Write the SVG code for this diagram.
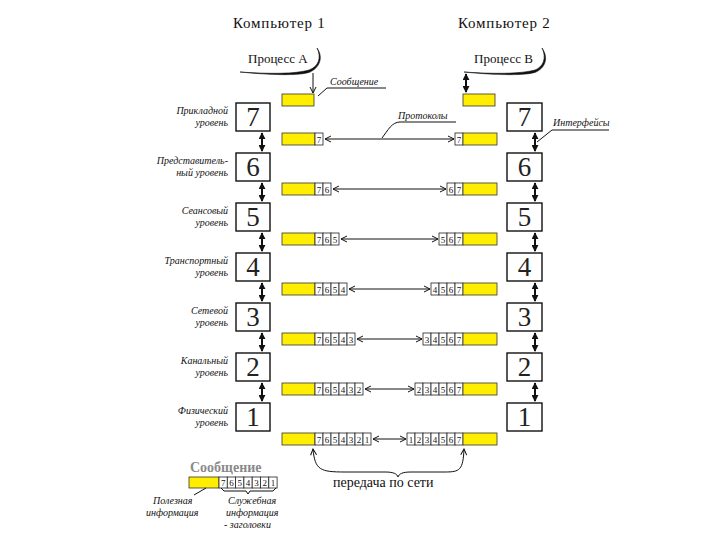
<svg xmlns="http://www.w3.org/2000/svg" width="720" height="540" viewBox="0 0 720 540" font-family="'Liberation Serif', 'Times New Roman', 'DejaVu Serif', serif">
<style>
.t{font-family:"Liberation Serif","Times New Roman","DejaVu Serif",serif;fill:#111}
.lbl{font-family:"Liberation Serif","Times New Roman","DejaVu Serif",serif;font-style:italic;font-size:10px;fill:#111;text-anchor:end}
.it{font-family:"Liberation Serif","Times New Roman","DejaVu Serif",serif;font-style:italic;font-size:10px;fill:#111}
.box{fill:#fff;stroke:#111;stroke-width:1.4}
.num{font-family:"Liberation Serif","Times New Roman","DejaVu Serif",serif;font-size:27px;fill:#222;text-anchor:middle}
.y{fill:#ffee00;stroke:#333;stroke-width:0.8}
.c{fill:#fff;stroke:#222;stroke-width:0.8}
.ct{font-family:"Liberation Serif","Times New Roman","DejaVu Serif",serif;font-size:9px;fill:#111;text-anchor:middle}
.ln{fill:none;stroke:#111;stroke-width:1}
.ha{fill:none;stroke:#111;stroke-width:1;marker-start:url(#oa);marker-end:url(#oa)}
.va{fill:none;stroke:#111;stroke-width:2;marker-start:url(#fa);marker-end:url(#fa)}
</style>
<defs>
<marker id="oa" viewBox="0 0 8 8" refX="7" refY="4" markerWidth="8" markerHeight="8" markerUnits="userSpaceOnUse" orient="auto-start-reverse"><path d="M1,1 L7,4 L1,7" fill="none" stroke="#111" stroke-width="1"/></marker>
<marker id="fa" viewBox="0 0 8 8" refX="7" refY="4" markerWidth="7" markerHeight="7" markerUnits="userSpaceOnUse" orient="auto-start-reverse"><path d="M0,0 L8,4 L0,8 Z" fill="#111"/></marker>
</defs>

<g id="titles">
<text class="t" x="233" y="28" font-size="15" letter-spacing="0.8">Компьютер 1</text>
<text class="t" x="458" y="28" font-size="15" letter-spacing="0.8">Компьютер 2</text>
</g>

<g id="processA">
<text class="t" x="248" y="63" font-size="13">Процесс А</text>
<path d="M240,72 C270,75 300,76 310,72 C319,68 324,58 317,48 C322,58 318,67 309,70 C295,74 270,74 240,72 Z" fill="#111" stroke="#111" stroke-width="0.6"/>
</g>
<g id="processB">
<text class="t" x="474" y="63" font-size="13">Процесс В</text>
<path d="M464,72 C494,75 526,76 536,72 C545,68 549,58 542,48 C547,58 543,67 535,70 C520,74 494,74 464,72 Z" fill="#111" stroke="#111" stroke-width="0.6"/>
</g>

<g id="msg-top">
<rect class="y" x="282" y="94" width="32" height="12"/>
<rect class="y" x="463" y="94" width="32" height="12"/>
<text class="it" x="330" y="85">Сообщение</text>
</g>

<g id="layersA">
<g id="a7"><rect class="box" x="236" y="103" width="34" height="28"/><text class="num" x="253" y="126">7</text><text class="lbl" x="228" y="114">Прикладной</text><text class="lbl" x="228" y="126">уровень</text></g>
<g id="a6"><rect class="box" x="236" y="153" width="34" height="28"/><text class="num" x="253" y="176">6</text><text class="lbl" x="228" y="164">Представитель-</text><text class="lbl" x="228" y="176">ный уровень</text></g>
<g id="a5"><rect class="box" x="236" y="203" width="34" height="28"/><text class="num" x="253" y="226">5</text><text class="lbl" x="228" y="214">Сеансовый</text><text class="lbl" x="228" y="226">уровень</text></g>
<g id="a4"><rect class="box" x="236" y="253" width="34" height="28"/><text class="num" x="253" y="276">4</text><text class="lbl" x="228" y="264">Транспортный</text><text class="lbl" x="228" y="276">уровень</text></g>
<g id="a3"><rect class="box" x="236" y="303" width="34" height="28"/><text class="num" x="253" y="326">3</text><text class="lbl" x="228" y="314">Сетевой</text><text class="lbl" x="228" y="326">уровень</text></g>
<g id="a2"><rect class="box" x="236" y="353" width="34" height="28"/><text class="num" x="253" y="376">2</text><text class="lbl" x="228" y="364">Канальный</text><text class="lbl" x="228" y="376">уровень</text></g>
<g id="a1"><rect class="box" x="236" y="403" width="34" height="28"/><text class="num" x="253" y="426">1</text><text class="lbl" x="228" y="414">Физический</text><text class="lbl" x="228" y="426">уровень</text></g>
</g>

<g id="layersB">
<g id="b7"><rect class="box" x="507" y="103" width="35" height="28"/><text class="num" x="524.5" y="126">7</text></g>
<g id="b6"><rect class="box" x="507" y="153" width="35" height="28"/><text class="num" x="524.5" y="176">6</text></g>
<g id="b5"><rect class="box" x="507" y="203" width="35" height="28"/><text class="num" x="524.5" y="226">5</text></g>
<g id="b4"><rect class="box" x="507" y="253" width="35" height="28"/><text class="num" x="524.5" y="276">4</text></g>
<g id="b3"><rect class="box" x="507" y="303" width="35" height="28"/><text class="num" x="524.5" y="326">3</text></g>
<g id="b2"><rect class="box" x="507" y="353" width="35" height="28"/><text class="num" x="524.5" y="376">2</text></g>
<g id="b1"><rect class="box" x="507" y="403" width="35" height="28"/><text class="num" x="524.5" y="426">1</text></g>
</g>

<g id="packets">
<g id="r7">
<rect class="y" x="282" y="133" width="33" height="12"/><rect class="c" x="315" y="133" width="8" height="12"/><text class="ct" x="319" y="143">7</text>
<rect class="c" x="455" y="133" width="8" height="12"/><text class="ct" x="459" y="143">7</text><rect class="y" x="463" y="133" width="34" height="12"/>
</g>
<g id="r6">
<rect class="y" x="282" y="183" width="33" height="12"/>
<rect class="c" x="315" y="183" width="8" height="12"/><text class="ct" x="319" y="193">7</text>
<rect class="c" x="323" y="183" width="8" height="12"/><text class="ct" x="327" y="193">6</text>
<rect class="c" x="447" y="183" width="8" height="12"/><text class="ct" x="451" y="193">6</text>
<rect class="c" x="455" y="183" width="8" height="12"/><text class="ct" x="459" y="193">7</text>
<rect class="y" x="463" y="183" width="34" height="12"/>
</g>
<g id="r5">
<rect class="y" x="282" y="233" width="33" height="12"/>
<rect class="c" x="315" y="233" width="8" height="12"/><text class="ct" x="319" y="243">7</text>
<rect class="c" x="323" y="233" width="8" height="12"/><text class="ct" x="327" y="243">6</text>
<rect class="c" x="331" y="233" width="8" height="12"/><text class="ct" x="335" y="243">5</text>
<rect class="c" x="439" y="233" width="8" height="12"/><text class="ct" x="443" y="243">5</text>
<rect class="c" x="447" y="233" width="8" height="12"/><text class="ct" x="451" y="243">6</text>
<rect class="c" x="455" y="233" width="8" height="12"/><text class="ct" x="459" y="243">7</text>
<rect class="y" x="463" y="233" width="34" height="12"/>
</g>
<g id="r4">
<rect class="y" x="282" y="283" width="33" height="12"/>
<rect class="c" x="315" y="283" width="8" height="12"/><text class="ct" x="319" y="293">7</text>
<rect class="c" x="323" y="283" width="8" height="12"/><text class="ct" x="327" y="293">6</text>
<rect class="c" x="331" y="283" width="8" height="12"/><text class="ct" x="335" y="293">5</text>
<rect class="c" x="339" y="283" width="8" height="12"/><text class="ct" x="343" y="293">4</text>
<rect class="c" x="431" y="283" width="8" height="12"/><text class="ct" x="435" y="293">4</text>
<rect class="c" x="439" y="283" width="8" height="12"/><text class="ct" x="443" y="293">5</text>
<rect class="c" x="447" y="283" width="8" height="12"/><text class="ct" x="451" y="293">6</text>
<rect class="c" x="455" y="283" width="8" height="12"/><text class="ct" x="459" y="293">7</text>
<rect class="y" x="463" y="283" width="34" height="12"/>
</g>
<g id="r3">
<rect class="y" x="282" y="333" width="33" height="12"/>
<rect class="c" x="315" y="333" width="8" height="12"/><text class="ct" x="319" y="343">7</text>
<rect class="c" x="323" y="333" width="8" height="12"/><text class="ct" x="327" y="343">6</text>
<rect class="c" x="331" y="333" width="8" height="12"/><text class="ct" x="335" y="343">5</text>
<rect class="c" x="339" y="333" width="8" height="12"/><text class="ct" x="343" y="343">4</text>
<rect class="c" x="347" y="333" width="8" height="12"/><text class="ct" x="351" y="343">3</text>
<rect class="c" x="423" y="333" width="8" height="12"/><text class="ct" x="427" y="343">3</text>
<rect class="c" x="431" y="333" width="8" height="12"/><text class="ct" x="435" y="343">4</text>
<rect class="c" x="439" y="333" width="8" height="12"/><text class="ct" x="443" y="343">5</text>
<rect class="c" x="447" y="333" width="8" height="12"/><text class="ct" x="451" y="343">6</text>
<rect class="c" x="455" y="333" width="8" height="12"/><text class="ct" x="459" y="343">7</text>
<rect class="y" x="463" y="333" width="34" height="12"/>
</g>
<g id="r2">
<rect class="y" x="282" y="383" width="33" height="12"/>
<rect class="c" x="315" y="383" width="8" height="12"/><text class="ct" x="319" y="393">7</text>
<rect class="c" x="323" y="383" width="8" height="12"/><text class="ct" x="327" y="393">6</text>
<rect class="c" x="331" y="383" width="8" height="12"/><text class="ct" x="335" y="393">5</text>
<rect class="c" x="339" y="383" width="8" height="12"/><text class="ct" x="343" y="393">4</text>
<rect class="c" x="347" y="383" width="8" height="12"/><text class="ct" x="351" y="393">3</text>
<rect class="c" x="355" y="383" width="8" height="12"/><text class="ct" x="359" y="393">2</text>
<rect class="c" x="415" y="383" width="8" height="12"/><text class="ct" x="419" y="393">2</text>
<rect class="c" x="423" y="383" width="8" height="12"/><text class="ct" x="427" y="393">3</text>
<rect class="c" x="431" y="383" width="8" height="12"/><text class="ct" x="435" y="393">4</text>
<rect class="c" x="439" y="383" width="8" height="12"/><text class="ct" x="443" y="393">5</text>
<rect class="c" x="447" y="383" width="8" height="12"/><text class="ct" x="451" y="393">6</text>
<rect class="c" x="455" y="383" width="8" height="12"/><text class="ct" x="459" y="393">7</text>
<rect class="y" x="463" y="383" width="34" height="12"/>
</g>
<g id="r1">
<rect class="y" x="282" y="433" width="33" height="12"/>
<rect class="c" x="315" y="433" width="8" height="12"/><text class="ct" x="319" y="443">7</text>
<rect class="c" x="323" y="433" width="8" height="12"/><text class="ct" x="327" y="443">6</text>
<rect class="c" x="331" y="433" width="8" height="12"/><text class="ct" x="335" y="443">5</text>
<rect class="c" x="339" y="433" width="8" height="12"/><text class="ct" x="343" y="443">4</text>
<rect class="c" x="347" y="433" width="8" height="12"/><text class="ct" x="351" y="443">3</text>
<rect class="c" x="355" y="433" width="8" height="12"/><text class="ct" x="359" y="443">2</text>
<rect class="c" x="363" y="433" width="8" height="12"/><text class="ct" x="367" y="443">1</text>
<rect class="c" x="407" y="433" width="8" height="12"/><text class="ct" x="411" y="443">1</text>
<rect class="c" x="415" y="433" width="8" height="12"/><text class="ct" x="419" y="443">2</text>
<rect class="c" x="423" y="433" width="8" height="12"/><text class="ct" x="427" y="443">3</text>
<rect class="c" x="431" y="433" width="8" height="12"/><text class="ct" x="435" y="443">4</text>
<rect class="c" x="439" y="433" width="8" height="12"/><text class="ct" x="443" y="443">5</text>
<rect class="c" x="447" y="433" width="8" height="12"/><text class="ct" x="451" y="443">6</text>
<rect class="c" x="455" y="433" width="8" height="12"/><text class="ct" x="459" y="443">7</text>
<rect class="y" x="463" y="433" width="34" height="12"/>
</g>
</g>

<g id="connectors">
<line class="ha" x1="325" y1="139" x2="454" y2="139"/>
<line class="ha" x1="333" y1="189" x2="446" y2="189"/>
<line class="ha" x1="341" y1="239" x2="438" y2="239"/>
<line class="ha" x1="349" y1="289" x2="430" y2="289"/>
<line class="ha" x1="357" y1="339" x2="422" y2="339"/>
<line class="ha" x1="365" y1="389" x2="414" y2="389"/>
<line class="ha" x1="373" y1="439" x2="406" y2="439"/>

<line class="va" x1="262" y1="133" x2="262" y2="151"/>
<line class="va" x1="262" y1="183" x2="262" y2="201"/>
<line class="va" x1="262" y1="233" x2="262" y2="251"/>
<line class="va" x1="262" y1="283" x2="262" y2="301"/>
<line class="va" x1="262" y1="333" x2="262" y2="351"/>
<line class="va" x1="262" y1="383" x2="262" y2="401"/>
<line class="va" x1="535" y1="133" x2="535" y2="151"/>
<line class="va" x1="535" y1="183" x2="535" y2="201"/>
<line class="va" x1="535" y1="233" x2="535" y2="251"/>
<line class="va" x1="535" y1="283" x2="535" y2="301"/>
<line class="va" x1="535" y1="333" x2="535" y2="351"/>
<line class="va" x1="535" y1="383" x2="535" y2="401"/>

<line class="ln" x1="313" y1="73" x2="313" y2="93" marker-end="url(#oa)"/>
<line class="va" x1="466" y1="74" x2="466" y2="92"/>

<path class="ln" d="M318,96 L327,88 L386,88"/>
<path class="ln" d="M382,138 C388,130 392,122 400,122 L456,122"/>
<path class="ln" d="M537,142 L552,130 L609,130"/>

<path class="ln" d="M313,449 C315,470 320,472 345,472 L385,472 C394,472 397,474 398,477 C399,474 402,472 411,472 L445,472 C460,472 463,470 464,449" marker-start="url(#oa)" marker-end="url(#oa)"/>
</g>

<g id="labels">
<text class="it" x="398" y="119">Протоколы</text>
<text class="it" x="553" y="126">Интерфейсы</text>
<text class="t" x="333" y="487" font-size="14">передача по сети</text>
</g>

<g id="legend">
<text class="t" x="190" y="472" font-size="14" font-weight="bold" style="fill:#8a8a8a">Сообщение</text>
<rect class="y" x="189" y="477" width="30" height="11"/>
<rect class="c" x="219" y="477" width="8.3" height="11"/><text class="ct" x="223.2" y="486">7</text>
<rect class="c" x="227.3" y="477" width="8.3" height="11"/><text class="ct" x="231.5" y="486">6</text>
<rect class="c" x="235.6" y="477" width="8.3" height="11"/><text class="ct" x="239.8" y="486">5</text>
<rect class="c" x="243.9" y="477" width="8.3" height="11"/><text class="ct" x="248.1" y="486">4</text>
<rect class="c" x="252.2" y="477" width="8.3" height="11"/><text class="ct" x="256.4" y="486">3</text>
<rect class="c" x="260.5" y="477" width="8.3" height="11"/><text class="ct" x="264.7" y="486">2</text>
<rect class="c" x="268.8" y="477" width="8.3" height="11"/><text class="ct" x="273" y="486">1</text>
<path class="ln" d="M221,488 L224,491 L246,491 L248,494 L250,491 L273,491 L276,488"/>
<path class="ln" d="M206,488 L194,495"/>
<text class="it" x="153" y="504">Полезная</text>
<text class="it" x="146" y="516">информация</text>
<text class="it" x="228" y="504">Служебная</text>
<text class="it" x="226" y="516">информация</text>
<text class="it" x="224" y="528">- заголовки</text>
</g>
</svg>
